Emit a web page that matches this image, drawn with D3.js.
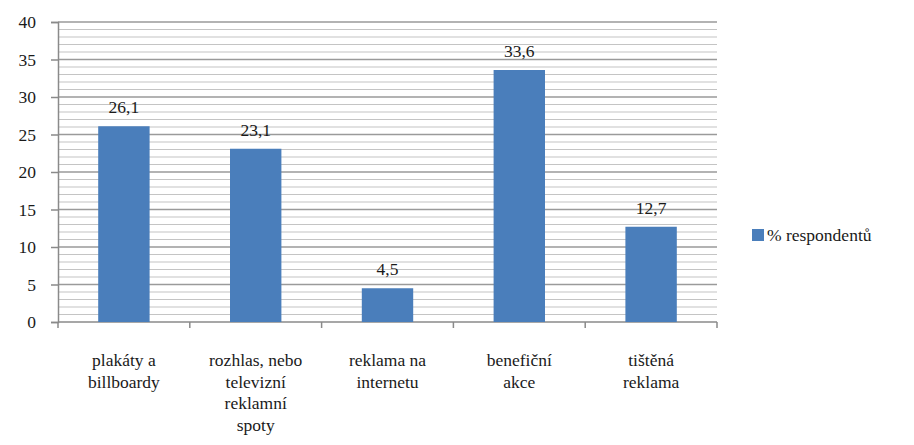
<!DOCTYPE html>
<html><head><meta charset="utf-8">
<script src="https://cdn.jsdelivr.net/npm/d3@7"></script>
<style>body{margin:0;background:#fff}svg{display:block}svg text, svg tspan{font-family:"Liberation Serif" !important;}</style>
</head><body>
<script>
const categories = [["plakáty a","billboardy"],["rozhlas, nebo","televizní","reklamní","spoty"],["reklama na","internetu"],["benefiční","akce"],["tištěná","reklama"]];
const values = [26.1, 23.1, 4.5, 33.6, 12.7];
const valueLabels = ["26,1","23,1","4,5","33,6","12,7"];
const yTicks = [0,5,10,15,20,25,30,35,40];
const seriesName = "% respondentů";

(function(){
const W=914,H=445;
const FONT = "Liberation Serif";
const fs = 17.5;
const svg = d3.select("body").append("svg").attr("width",W).attr("height",H);
const pl=58,pr=717,pt=22,pb=322;
const x = d3.scaleBand().domain(d3.range(values.length)).range([pl,pr]).paddingInner(0.61).paddingOuter(0.305);
const y = d3.scaleLinear().domain([0,40]).range([pb,pt]);
function txt(sel){ return sel.style("font-family",FONT,"important").style("font-size",fs+"px").attr("fill","#1a1a1a"); }

svg.append("g").selectAll("line").data(d3.range(1,40).filter(v=>v%5!==0)).join("line")
 .attr("x1",pl).attr("x2",pr).attr("y1",d=>y(d)).attr("y2",d=>y(d))
 .attr("stroke","#c4c4c4").attr("stroke-width",1.2);
svg.append("g").selectAll("line").data(yTicks.filter(v=>v>0)).join("line")
 .attr("x1",pl).attr("x2",pr).attr("y1",d=>y(d)).attr("y2",d=>y(d))
 .attr("stroke","#9a9a9a").attr("stroke-width",1.5);

const ya = svg.append("g").attr("transform",`translate(${pl},0)`)
 .call(d3.axisLeft(y).tickValues(yTicks).tickSize(7).tickPadding(15).tickFormat(d=>d));
ya.attr("font-family",FONT).attr("font-size",fs);
ya.select(".domain").attr("stroke","#8a8a8a").attr("stroke-width",1.5);
ya.selectAll(".tick line").attr("stroke","#8a8a8a").attr("stroke-width",1.5);
txt(ya.selectAll("text"));

const step = x.step();
svg.append("line").attr("x1",pl).attr("x2",pr).attr("y1",pb).attr("y2",pb).attr("stroke","#8a8a8a").attr("stroke-width",1.5);
svg.append("g").selectAll("line").data(d3.range(values.length+1)).join("line")
 .attr("x1",i=>pl+i*step).attr("x2",i=>pl+i*step).attr("y1",pb).attr("y2",pb+6)
 .attr("stroke","#8a8a8a").attr("stroke-width",1.5);

svg.append("g").selectAll("rect").data(values).join("rect")
 .attr("x",(d,i)=>x(i)).attr("width",x.bandwidth())
 .attr("y",d=>y(d)).attr("height",d=>y(0)-y(d)).attr("fill","#4a7ebb");

txt(svg.append("g").selectAll("text").data(values).join("text")
 .attr("x",(d,i)=>x(i)+x.bandwidth()/2).attr("y",d=>y(d)-13)
 .attr("text-anchor","middle"))
 .text((d,i)=>valueLabels[i]);

const cl = txt(svg.append("g").selectAll("text").data(categories).join("text")
 .attr("text-anchor","middle")
 .attr("transform",(d,i)=>`translate(${x(i)+x.bandwidth()/2},${366})`));
cl.selectAll("tspan").data(d=>d).join("tspan").attr("x",0).attr("dy",(d,j)=>j===0?0:21.5).text(d=>d);

svg.append("rect").attr("x",752).attr("y",229).attr("width",12).attr("height",12).attr("fill","#4a7ebb");
txt(svg.append("text").attr("x",767).attr("y",241)).text(seriesName);
})();
</script>
</body></html>
